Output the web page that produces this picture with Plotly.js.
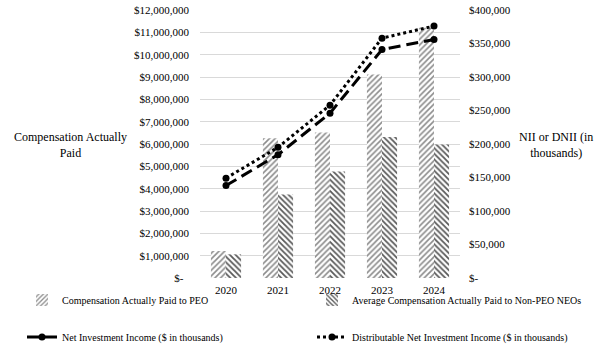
<!DOCTYPE html>
<html>
<head>
<meta charset="utf-8">
<script src="https://cdn.plot.ly/plotly-3.0.1.min.js"></script>
<style>html,body{margin:0;padding:0;background:#fff;}#chart{width:602px;height:350px;}</style>
</head>
<body>
<div id="chart"></div>
<script>
const years = ['2020', '2021', '2022', '2023', '2024'];
const capPEO = [1210000, 6260000, 6520000, 9110000, 11200000];
const capNEO = [1060000, 3740000, 4770000, 6310000, 5980000];
const nii = [138000, 184000, 246000, 341000, 356000];
const dnii = [149000, 195000, 258000, 358000, 376000];
const leftTickVals = [0,1e6,2e6,3e6,4e6,5e6,6e6,7e6,8e6,9e6,10e6,11e6,12e6];
const leftTickText = ['$-\u00a0\u00a0','$1,000,000','$2,000,000','$3,000,000','$4,000,000','$5,000,000','$6,000,000','$7,000,000','$8,000,000','$9,000,000','$10,000,000','$11,000,000','$12,000,000'];
const rightTickVals = [0,50000,100000,150000,200000,250000,300000,350000,400000];
const rightTickText = ['$-','$50,000','$100,000','$150,000','$200,000','$250,000','$300,000','$350,000','$400,000'];

const FONT = 'Liberation Serif, Times New Roman, serif';

const traces = [
  {
    type: 'bar', name: 'Compensation Actually Paid to PEO', x: years, y: capPEO,
    marker: {color: 'white', line: {width: 0},
      pattern: {shape: '/', fgcolor: '#8c8c8c', bgcolor: 'white', size: 4, solidity: 0.4, fillmode: 'replace'}},
    legend: 'legend'
  },
  {
    type: 'bar', name: 'Average Compensation Actually Paid to Non-PEO NEOs', x: years, y: capNEO,
    marker: {color: 'white', line: {width: 0},
      pattern: {shape: '\\', fgcolor: '#5a5a5a', bgcolor: 'white', size: 4, solidity: 0.45, fillmode: 'replace'}},
    legend: 'legend2'
  },
  {
    type: 'scatter', mode: 'lines+markers', name: 'Net Investment Income ($ in thousands)',
    x: years, y: nii, yaxis: 'y2',
    line: {color: 'black', width: 3, dash: '12px,6px'},
    marker: {color: 'black', size: 7, symbol: 'circle'},
    legend: 'legend3'
  },
  {
    type: 'scatter', mode: 'lines+markers', name: 'Distributable Net Investment Income ($ in thousands)',
    x: years, y: dnii, yaxis: 'y2',
    line: {color: 'black', width: 3, dash: '3px,3px'},
    marker: {color: 'black', size: 7, symbol: 'circle'},
    legend: 'legend4'
  }
];

function leg(xpx, ypx) {
  return {
    orientation: 'h', xref: 'container', yref: 'container', xanchor: 'left', yanchor: 'middle',
    x: xpx / 602, y: 1 - ypx / 350, itemwidth: 30,
    font: {family: FONT, size: 10, color: '#000'}, bgcolor: 'rgba(0,0,0,0)'
  };
}

const layout = {
  width: 602, height: 350,
  margin: {l: 200, r: 142, t: 10, b: 72, pad: 0},
  paper_bgcolor: 'white', plot_bgcolor: 'white',
  font: {family: FONT, size: 11, color: '#000'},
  barmode: 'group', bargap: 0.42, bargroupgap: 0,
  showlegend: true,
  xaxis: {type: 'category', showgrid: false, zeroline: false, showline: false, ticks: '',
    ticklabelstandoff: 4, tickfont: {family: FONT, size: 11, color: '#000'}},
  yaxis: {range: [0, 12000000], tickvals: leftTickVals, ticktext: leftTickText, showgrid: true,
    gridcolor: '#d9d9d9', gridwidth: 1, zeroline: false, showline: false, ticks: '',
    ticklabelstandoff: 10, tickfont: {family: FONT, size: 11, color: '#000'}},
  yaxis2: {range: [0, 400000], overlaying: 'y', side: 'right', tickvals: rightTickVals,
    ticktext: rightTickText, showgrid: false, zeroline: false, showline: false, ticks: '',
    ticklabelstandoff: 8, tickfont: {family: FONT, size: 11, color: '#000'}},
  legend: leg(22, 300),
  legend2: leg(312, 300),
  legend3: leg(22, 337),
  legend4: leg(312, 337),
  annotations: [
    {text: 'Compensation Actually<br>Paid', xref: 'paper', yref: 'paper', x: (70-200)/260, y: (278-145)/268,
      xanchor: 'center', yanchor: 'middle', showarrow: false, align: 'center',
      font: {family: FONT, size: 12, color: '#000'}},
    {text: 'NII or DNII (in<br>thousands)', xref: 'paper', yref: 'paper', x: (556-200)/260, y: (278-145)/268,
      xanchor: 'center', yanchor: 'middle', showarrow: false, align: 'center',
      font: {family: FONT, size: 12, color: '#000'}}
  ]
};

Plotly.newPlot('chart', traces, layout, {displayModeBar: false, staticPlot: true});
</script>
</body>
</html>
